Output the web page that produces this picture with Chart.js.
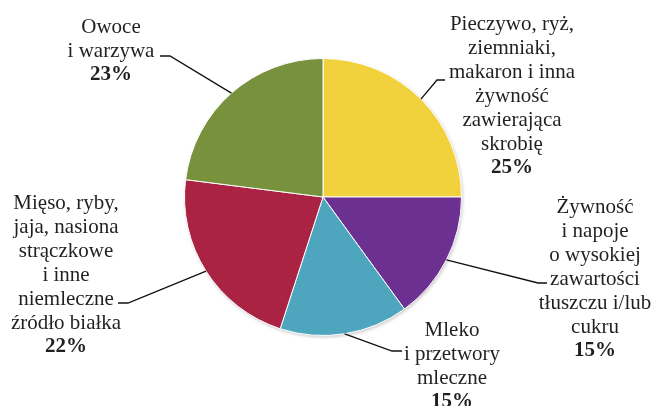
<!DOCTYPE html>
<html lang="pl">
<head>
    <meta charset="UTF-8">
    <title>Talerz zdrowego żywienia</title>
    <script src="https://cdn.jsdelivr.net/npm/chart.js"></script>
    <style>
        html, body {
            margin: 0;
            padding: 0;
            background: #ffffff;
        }

        .chart-box {
            width: 654px;
            height: 406px;
        }
    </style>
</head>
<body>
    <div class="chart-box">
        <canvas id="pieChart" width="654" height="406"></canvas>
    </div>

    <script>
        // data
        const categories = [
            ['Pieczywo, ryż,', 'ziemniaki,', 'makaron i inna', 'żywność', 'zawierająca', 'skrobię'],
            ['Żywność', 'i napoje', 'o wysokiej', 'zawartości', 'tłuszczu i/lub', 'cukru'],
            ['Mleko', 'i przetwory', 'mleczne'],
            ['Mięso, ryby,', 'jaja, nasiona', 'strączkowe', 'i inne', 'niemleczne', 'źródło białka'],
            ['Owoce', 'i warzywa']
        ];
        const shares = [25, 15, 15, 22, 23];
        const sliceColors = ['#F2D23C', '#6B3090', '#4DA6BE', '#AA2342', '#77913D'];

        // label placement: text centre x, first line y, elbow of leader, end of leader
        const labelBoxes = [
            { x: 512, y: 24, elbow: [437, 80], end: [445, 80] },
            { x: 595, y: 207, elbow: [538, 283], end: [547, 283] },
            { x: 452, y: 330, elbow: [392, 351], end: [402, 351] },
            { x: 66, y: 203, elbow: [128, 303], end: [118, 303] },
            { x: 111, y: 27, elbow: [170, 56], end: [160, 56] }
        ];

        const LINE_H = 24;
        const FONT = '"Liberation Serif", "Times New Roman", serif';

        const pieLabels = {
            id: 'pieLabels',
            beforeDatasetsDraw(chart) {
                // soft shadow under the pie
                const ctx = chart.ctx;
                const arc = chart.getDatasetMeta(0).data[0];
                ctx.save();
                ctx.beginPath();
                ctx.arc(arc.x + 1, arc.y + 1.5, arc.outerRadius + 0.5, 0, Math.PI * 2);
                ctx.fillStyle = 'rgba(0,0,0,0.18)';
                ctx.filter = 'blur(1.5px)';
                ctx.fill();
                ctx.restore();
            },
            afterDatasetsDraw(chart) {
                const ctx = chart.ctx;
                const meta = chart.getDatasetMeta(0);
                ctx.save();
                meta.data.forEach((arc, i) => {
                    const box = labelBoxes[i];
                    const mid = (arc.startAngle + arc.endAngle) / 2;
                    const ax = arc.x + Math.cos(mid) * arc.outerRadius;
                    const ay = arc.y + Math.sin(mid) * arc.outerRadius;

                    ctx.beginPath();
                    ctx.moveTo(ax, ay);
                    ctx.lineTo(box.elbow[0], box.elbow[1]);
                    ctx.lineTo(box.end[0], box.end[1]);
                    ctx.strokeStyle = '#111';
                    ctx.lineWidth = 1.3;
                    ctx.stroke();

                    ctx.fillStyle = '#231f20';
                    ctx.textAlign = 'center';
                    ctx.textBaseline = 'middle';
                    const lines = categories[i];
                    ctx.font = '21px ' + FONT;
                    lines.forEach((txt, k) => {
                        ctx.fillText(txt, box.x, box.y + k * LINE_H);
                    });
                    ctx.font = 'bold 21px ' + FONT;
                    ctx.fillText(shares[i] + '%', box.x, box.y + lines.length * LINE_H);
                });
                ctx.restore();
            }
        };

        new Chart(document.getElementById('pieChart'), {
            type: 'pie',
            data: {
                labels: categories.map(l => l.join(' ')),
                datasets: [{
                    data: shares,
                    backgroundColor: sliceColors,
                    borderColor: '#ffffff',
                    borderWidth: 1
                }]
            },
            options: {
                responsive: false,
                animation: false,
                layout: {
                    padding: { top: 58, bottom: 70, left: 184, right: 192 }
                },
                plugins: {
                    legend: { display: false },
                    tooltip: { enabled: false }
                }
            },
            plugins: [pieLabels]
        });
    </script>
</body>
</html>
